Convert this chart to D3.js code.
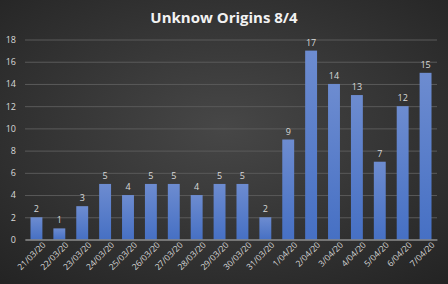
<!DOCTYPE html>
<html>
<head>
<meta charset="utf-8">
<script src="https://cdn.jsdelivr.net/npm/d3@7"></script>
<style>
  body { margin: 0; background: #2b2b2b; }
  text { font-family: "Open Sans", "Liberation Sans", sans-serif; }
</style>
</head>
<body>
<svg id="chart"></svg>
<script>
//chart data
var dates = ['21/03/20', '22/03/20', '23/03/20', '24/03/20', '25/03/20', '26/03/20',
    '27/03/20', '28/03/20', '29/03/20', '30/03/20', '31/03/20', '1/04/20',
    '2/04/20', '3/04/20', '4/04/20', '5/04/20', '6/04/20', '7/04/20'];
var cases = [2, 1, 3, 5, 4, 5, 5, 4, 5, 5, 2, 9, 17, 14, 13, 7, 12, 15];
var yTicks = [0, 2, 4, 6, 8, 10, 12, 14, 16, 18];

//chart parameters
var svg = d3.select('#chart')
    .attr('width', 448)
    .attr('height', 284);

var margin = {top: 39.5, right: 11, bottom: 44.5, left: 25},
    width = +svg.attr('width') - margin.left - margin.right,
    height = +svg.attr('height') - margin.top - margin.bottom;

//background gradient
var defs = svg.append('defs');
var bg = defs.append('radialGradient')
    .attr('id', 'bg')
    .attr('cx', '50%').attr('cy', '45%').attr('r', '75%');
bg.append('stop').attr('offset', '0%').attr('stop-color', '#474747');
bg.append('stop').attr('offset', '100%').attr('stop-color', '#232323');

var barGrad = defs.append('linearGradient')
    .attr('id', 'bar')
    .attr('x1', 0).attr('y1', 0).attr('x2', 0).attr('y2', 1);
barGrad.append('stop').attr('offset', '0%').attr('stop-color', '#6d8cd0');
barGrad.append('stop').attr('offset', '100%').attr('stop-color', '#4670c4');

svg.append('rect')
    .attr('width', 448).attr('height', 284)
    .attr('fill', 'url(#bg)');

//title
svg.append('text')
    .attr('x', 224)
    .attr('y', 23)
    .attr('text-anchor', 'middle')
    .attr('fill', '#f2f2f2')
    .style('font-size', '15px')
    .style('font-weight', 'bold')
    .text('Unknow Origins 8/4');

//scales
var xScale = d3.scaleBand().domain(dates).range([0, width]).paddingInner(0.48).paddingOuter(0.24),
    yScale = d3.scaleLinear().domain([0, 18]).range([height, 0]);

var canvas = svg.append('g')
    .attr('transform', 'translate(' + margin.left + ',' + margin.top + ')');

//y gridlines
canvas.append('g')
    .attr('class', 'grid')
    .call(d3.axisLeft(yScale).tickValues(yTicks).tickSize(-width).tickFormat(''))
    .call(g => g.select('.domain').remove())
    .call(g => g.selectAll('line').attr('stroke', '#5a5a5a').attr('stroke-width', 1));

//y axis labels
canvas.append('g')
    .attr('class', 'axis axis-y')
    .call(d3.axisLeft(yScale).tickValues(yTicks).tickSize(0).tickPadding(9))
    .call(g => g.select('.domain').remove())
    .call(g => g.selectAll('text')
        .attr('fill', '#d9d9d9')
        .style('font-size', '9px'));

//bars
canvas.selectAll('rect.bar').data(cases)
    .enter().append('rect')
    .attr('class', 'bar')
    .attr('x', (d, i) => xScale(dates[i]))
    .attr('y', d => yScale(d))
    .attr('width', xScale.bandwidth())
    .attr('height', d => height - yScale(d))
    .attr('fill', 'url(#bar)');

//data labels
canvas.selectAll('text.label').data(cases)
    .enter().append('text')
    .attr('class', 'label')
    .attr('x', (d, i) => xScale(dates[i]) + xScale.bandwidth() / 2)
    .attr('y', d => yScale(d) - 5)
    .attr('text-anchor', 'middle')
    .attr('fill', '#d9d9d9')
    .style('font-size', '9px')
    .text(d => d);

//x axis
canvas.append('g')
    .attr('class', 'axis axis-x')
    .attr('transform', 'translate(0,' + height + ')')
    .call(d3.axisBottom(xScale).tickSize(0).tickPadding(6))
    .call(g => g.select('.domain').attr('stroke', '#a6a6a6').attr('stroke-width', 1))
    .call(g => g.selectAll('text')
        .attr('fill', '#d9d9d9')
        .style('font-size', '8.5px')
        .attr('text-anchor', 'end')
        .attr('dx', '0.3em')
        .attr('dy', '0.6em')
        .attr('transform', 'rotate(-45)'));
</script>
</body>
</html>
